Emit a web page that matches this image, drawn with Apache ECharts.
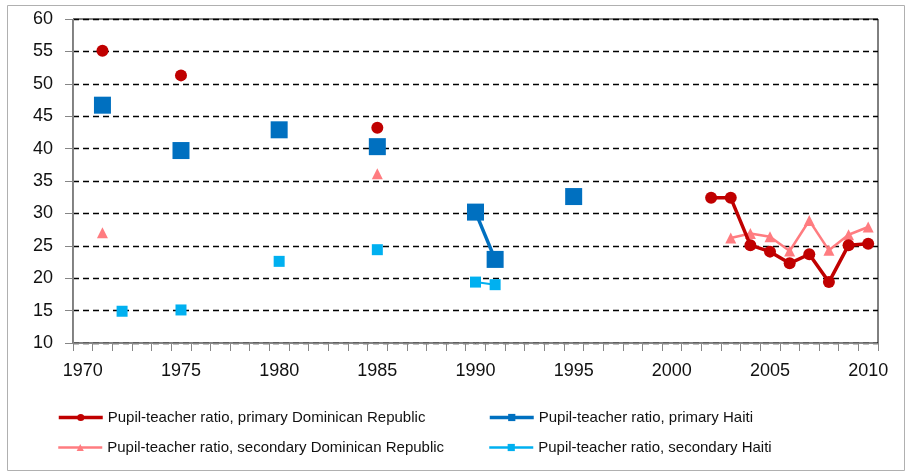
<!DOCTYPE html>
<html>
<head>
<meta charset="utf-8">
<script src="https://cdn.jsdelivr.net/npm/echarts@6/dist/echarts.min.js"></script>
<style>
html,body{margin:0;padding:0;background:#fff;}
#c{width:908px;height:474px;}
</style>
</head>
<body>
<div id="c"></div>
<script>
var years = [];
for (var y = 1970; y <= 2010; y++) years.push(String(y));

var seriesNames = [
  'Pupil-teacher ratio, primary Dominican Republic',
  'Pupil-teacher ratio, primary Haiti',
  'Pupil-teacher ratio, secondary Dominican Republic',
  'Pupil-teacher ratio, secondary Haiti'
];

// [year, value] pairs
var primaryDR = [[1971,55.1],[1975,51.3],[1985,43.2],[2002,32.4],[2003,32.4],[2004,25.1],[2005,24.1],[2006,22.3],[2007,23.7],[2008,19.4],[2009,25.1],[2010,25.3]];
var primaryHaiti = [[1971,46.7],[1975,39.7],[1980,42.9],[1985,40.3],[1990,30.2],[1991,22.9],[1995,32.6]];
var secondaryDR = [[1971,27.0],[1985,36.1],[2003,26.2],[2004,26.9],[2005,26.4],[2006,24.2],[2007,28.9],[2008,24.3],[2009,26.7],[2010,27.9]];
var secondaryHaiti = [[1972,14.9],[1975,15.1],[1980,22.6],[1985,24.4],[1990,19.4],[1991,19.0]];

var yTicks = { min: 10, max: 60, interval: 5 };

function toSeries(pairs) {
  var arr = years.map(function(){ return null; });
  pairs.forEach(function(p){ arr[p[0] - 1970] = p[1]; });
  return arr;
}

var colors = ['#C00000', '#0070C0', '#FF7C80', '#00B0F0'];
var legendLineW = [3.5, 3.5, 2.5, 2.5];

var chart = echarts.init(document.getElementById('c'), null, {renderer: 'canvas'});

function legendAt(i, left, top) {
  return {
    data: [{ name: seriesNames[i], lineStyle: { width: legendLineW[i] } }],
    left: left, top: top, orient: 'horizontal',
    itemWidth: 44, itemHeight: 9, itemGap: 4, padding: 0,
    textStyle: { fontFamily: 'Liberation Sans', fontSize: 15, color: '#111' },
    selectedMode: false
  };
}

var option = {
  animation: false,
  backgroundColor: '#fff',
  graphic: [{
    type: 'rect', shape: { x: 7.5, y: 5.5, width: 897, height: 465 },
    style: { fill: 'none', stroke: '#b0b0b0', lineWidth: 1 }, z: -1
  }],
  grid: { left: 73, right: 30, top: 19, bottom: 131, show: true, borderColor: '#000', borderWidth: 1 },
  legend: [
    legendAt(0, 57, 410),
    legendAt(1, 488, 410),
    legendAt(2, 57, 440),
    legendAt(3, 488, 440)
  ],
  xAxis: {
    type: 'category', data: years, boundaryGap: true,
    axisLine: { lineStyle: { color: '#868686', width: 1 } },
    axisTick: { show: true, interval: 0, length: 8, lineStyle: { color: '#868686' } },
    axisLabel: { interval: 4, fontFamily: 'Liberation Sans', fontSize: 18, color: '#111', margin: 19 },
    splitLine: { show: false }
  },
  yAxis: {
    type: 'value', min: yTicks.min, max: yTicks.max, interval: yTicks.interval,
    axisLine: { show: true, lineStyle: { color: '#868686', width: 1 } },
    axisTick: { show: true, length: 8, lineStyle: { color: '#868686' } },
    axisLabel: { fontFamily: 'Liberation Sans', fontSize: 18, color: '#111', margin: 20 },
    splitLine: { show: true, lineStyle: { color: '#000', type: [6, 4], width: 1.3 } }
  },
  series: [
    { name: seriesNames[0], type: 'line', data: toSeries(primaryDR), connectNulls: false, showAllSymbol: true,
      symbol: 'circle', symbolSize: 12, itemStyle: { color: colors[0] }, lineStyle: { color: colors[0], width: 3.5 }, z: 4 },
    { name: seriesNames[1], type: 'line', data: toSeries(primaryHaiti), connectNulls: false, showAllSymbol: true,
      symbol: 'rect', symbolSize: 17, itemStyle: { color: colors[1] }, lineStyle: { color: colors[1], width: 3.5 }, z: 3 },
    { name: seriesNames[2], type: 'line', data: toSeries(secondaryDR), connectNulls: false, showAllSymbol: true,
      symbol: 'triangle', symbolSize: 11, itemStyle: { color: colors[2] }, lineStyle: { color: colors[2], width: 2.5 }, z: 3 },
    { name: seriesNames[3], type: 'line', data: toSeries(secondaryHaiti), connectNulls: false, showAllSymbol: true,
      symbol: 'rect', symbolSize: 11, itemStyle: { color: colors[3] }, lineStyle: { color: colors[3], width: 2 }, z: 3 }
  ]
};
chart.setOption(option);
</script>
</body>
</html>
